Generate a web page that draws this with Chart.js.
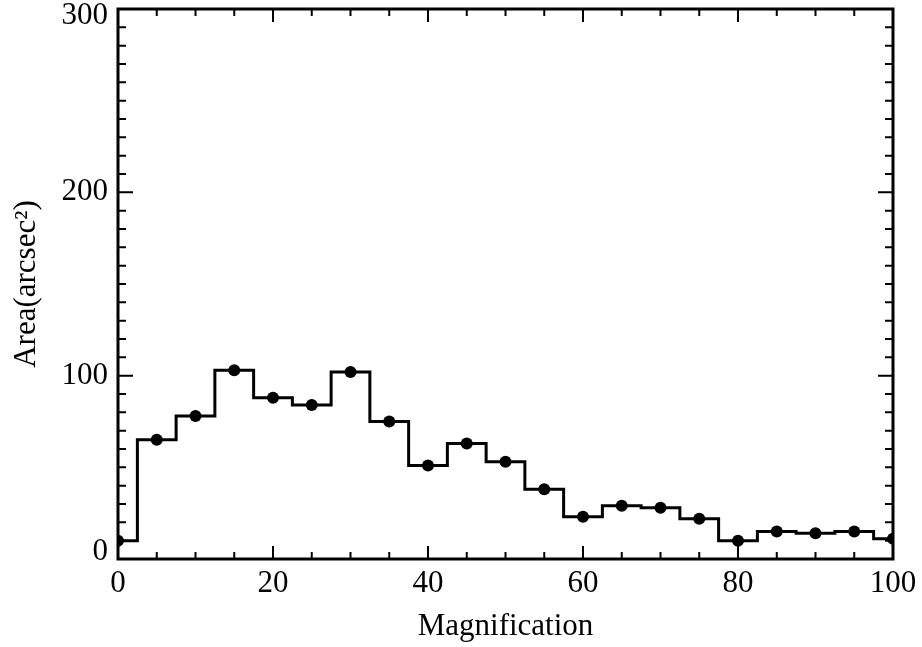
<!DOCTYPE html>
<html>
<head>
<meta charset="utf-8">
<script src="https://cdn.jsdelivr.net/npm/chart.js@4.4.1/dist/chart.umd.min.js"></script>
<style>
  html, body { margin: 0; padding: 0; background: #fff; }
  #wrap { width: 922px; height: 647px; }
</style>
</head>
<body>
<div id="wrap"><canvas id="chart"></canvas></div>
<script>
// magnification bins (centres) and area per bin
const magnification = [0, 5, 10, 15, 20, 25, 30, 35, 40, 45, 50, 55, 60, 65, 70, 75, 80, 85, 90, 95, 100];
const area = [10, 65, 78, 103, 88, 84, 102, 75, 51, 63, 53, 38, 23, 29, 28, 22, 10, 15, 14, 15, 11];

const xTicks = [0, 20, 40, 60, 80, 100];
const yTicks = [0, 100, 200, 300];

Chart.defaults.font.family = "'Liberation Serif', 'DejaVu Serif', serif";
Chart.defaults.font.size = 31;
Chart.defaults.color = '#000';

// box around the plot + IDL style inward tick marks on all four sides
const boxTicks = {
  id: 'boxTicks',
  afterDatasetsDraw(chart) {
    const { ctx, chartArea: a, scales } = chart;
    const x = scales.x, y = scales.y;
    ctx.save();
    ctx.strokeStyle = '#000';
    ctx.lineWidth = 2;
    // x ticks every 5, major every 20
    for (let v = x.min; v <= x.max; v += 5) {
      const px = x.getPixelForValue(v);
      const len = v % 20 === 0 ? 13 : 7;
      ctx.beginPath();
      ctx.moveTo(px, a.bottom); ctx.lineTo(px, a.bottom - len);
      ctx.moveTo(px, a.top); ctx.lineTo(px, a.top + len);
      ctx.stroke();
    }
    // y ticks every 10, major every 100
    for (let v = y.min; v <= y.max; v += 10) {
      const py = y.getPixelForValue(v);
      const len = v % 100 === 0 ? 15 : 8;
      ctx.beginPath();
      ctx.moveTo(a.left, py); ctx.lineTo(a.left + len, py);
      ctx.moveTo(a.right, py); ctx.lineTo(a.right - len, py);
      ctx.stroke();
    }
    ctx.lineWidth = 3;
    ctx.lineJoin = 'miter';
    ctx.strokeRect(a.left, a.top, a.right - a.left, a.bottom - a.top);
    ctx.restore();
  }
};

new Chart(document.getElementById('chart'), {
  type: 'line',
  data: {
    datasets: [{
      data: magnification.map((m, i) => ({ x: m, y: area[i] })),
      stepped: 'middle',
      borderColor: '#000',
      borderWidth: 3,
      borderJoinStyle: 'miter',
      pointRadius: 6,
      pointBackgroundColor: '#000',
      pointBorderWidth: 0,
      fill: false,
      clip: 0
    }]
  },
  options: {
    responsive: true,
    maintainAspectRatio: false,
    animation: false,
    layout: { padding: { top: 9, right: 29, left: 0, bottom: 0 } },
    plugins: {
      legend: { display: false },
      tooltip: { enabled: false }
    },
    scales: {
      x: {
        type: 'linear',
        min: 0,
        max: 100,
        afterFit(scale) {
          scale.height = 88;
          scale.paddingLeft = 0;
          scale.paddingRight = 0;
        },
        afterBuildTicks(scale) { scale.ticks = xTicks.map(v => ({ value: v })); },
        grid: { display: false, drawTicks: false },
        border: { display: false },
        ticks: { padding: 6, maxRotation: 0 },
        title: {
          display: true,
          text: 'Magnification',
          padding: { top: 0, bottom: 2 }
        }
      },
      y: {
        min: 0,
        max: 300,
        afterFit(scale) {
          scale.width = 118;
          scale.paddingTop = 0;
          scale.paddingBottom = 0;
        },
        afterBuildTicks(scale) { scale.ticks = yTicks.map(v => ({ value: v })); },
        grid: { display: false, drawTicks: false },
        border: { display: false },
        ticks: {
          padding: 10,
          // end labels sit inside the box, like the original
          font: (c) => ({ size: 31, lineHeight: (c.tick && (c.tick.value === 0 || c.tick.value === 300)) ? 0.45 : 1.2 }),
          callback(value) {
            if (value === 300) return ['', '300'];
            if (value === 0) return ['0', ''];
            return String(value);
          }
        },
        title: {
          display: true,
          text: 'Area(arcsec²)',
          padding: { top: 8, bottom: 0 }
        }
      }
    }
  },
  plugins: [boxTicks]
});
</script>
</body>
</html>
